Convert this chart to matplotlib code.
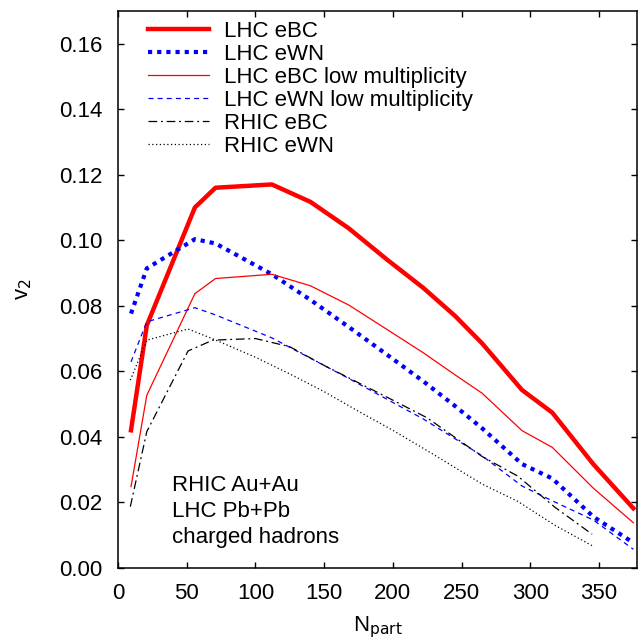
import numpy as np
import matplotlib.pyplot as plt

plt.rcParams['font.family'] = ['Liberation Sans', 'DejaVu Sans']

# Npart grid, LHC curves
npart_lhc = [9.5, 21, 56, 71, 112, 140, 168, 196, 222, 245, 265, 294, 316, 346, 375]
lhc_ebc = [0.042, 0.074, 0.110, 0.116, 0.117, 0.1117, 0.1036, 0.094, 0.0855, 0.077,
           0.0685, 0.0543, 0.0474, 0.0316, 0.0182]
lhc_ewn = [0.0776, 0.0914, 0.1003, 0.099, 0.0896, 0.0818, 0.0735, 0.065, 0.057, 0.0495,
           0.0426, 0.0317, 0.0273, 0.0156, 0.0077]
lhc_ebc_low = [0.0248, 0.0527, 0.0837, 0.0883, 0.0896, 0.0861, 0.0802, 0.0727, 0.0657,
               0.059, 0.0533, 0.0419, 0.0368, 0.0243, 0.0138]
lhc_ewn_low = [0.0629, 0.0751, 0.0794, 0.0772, 0.0702, 0.064, 0.0578, 0.0514, 0.0455,
               0.0395, 0.0342, 0.025, 0.0205, 0.0146, 0.0057]

# RHIC curves
npart_rhic = [9, 21, 51, 69, 100, 125, 150, 175, 200, 225, 265, 291, 318, 345]
rhic_ebc = [0.0187, 0.0416, 0.0662, 0.0695, 0.070, 0.0675, 0.0618, 0.0565, 0.0512,
            0.0458, 0.034, 0.028, 0.0185, 0.0103]
rhic_ewn = [0.0573, 0.0695, 0.0729, 0.0699, 0.0643, 0.0592, 0.0538, 0.0478, 0.042,
            0.0358, 0.0256, 0.0203, 0.013, 0.0068]

fig = plt.figure(figsize=(6.41, 6.42), dpi=100)
ax = fig.add_axes([0.184, 0.1153, 0.8105, 0.868])

ax.plot(npart_lhc, lhc_ebc, color='red', lw=3.2, label='LHC eBC')
ax.plot(npart_lhc, lhc_ewn, color='blue', lw=3, linestyle=(0, (1, 1.2)), label='LHC eWN')
ax.plot(npart_lhc, lhc_ebc_low, color='red', lw=0.9, label='LHC eBC low multiplicity')
ax.plot(npart_lhc, lhc_ewn_low, color='blue', lw=0.9, linestyle=(0, (4, 3.3)),
        label='LHC eWN low multiplicity')
ax.plot(npart_rhic, rhic_ebc, color='black', lw=0.9, linestyle=(0, (7, 3, 1.5, 3)),
        label='RHIC eBC')
ax.plot(npart_rhic, rhic_ewn, color='black', lw=0.9, linestyle=(0, (1, 2)),
        label='RHIC eWN')

ax.set_xlim(0, 378)
ax.set_ylim(0, 0.17)
ax.set_xticks(np.arange(0, 351, 50))
ax.set_yticks(np.arange(0, 0.161, 0.02))
ax.yaxis.set_major_formatter(plt.FormatStrFormatter('%.2f'))
ax.tick_params(direction='in', length=4.5, width=1, labelsize=16, top=True, right=True,
               pad=11)
for s in ax.spines.values():
    s.set_linewidth(1.1)

ax.set_xlabel(r'N$_{\mathrm{part}}$', fontsize=16, labelpad=7)
ax.set_ylabel(r'v$_2$', fontsize=16, labelpad=18)

ax.text(39.3, 0.0283, 'RHIC Au+Au\nLHC Pb+Pb\ncharged hadrons', fontsize=16,
        va='top', ha='left', linespacing=1.3)

ax.legend(loc='upper left', bbox_to_anchor=(0.039, 1.0), frameon=False, fontsize=16,
          handlelength=2.75, handletextpad=0.66, labelspacing=0.09,
          borderaxespad=0, borderpad=0.45)

fig.savefig('out.png', dpi=100)
